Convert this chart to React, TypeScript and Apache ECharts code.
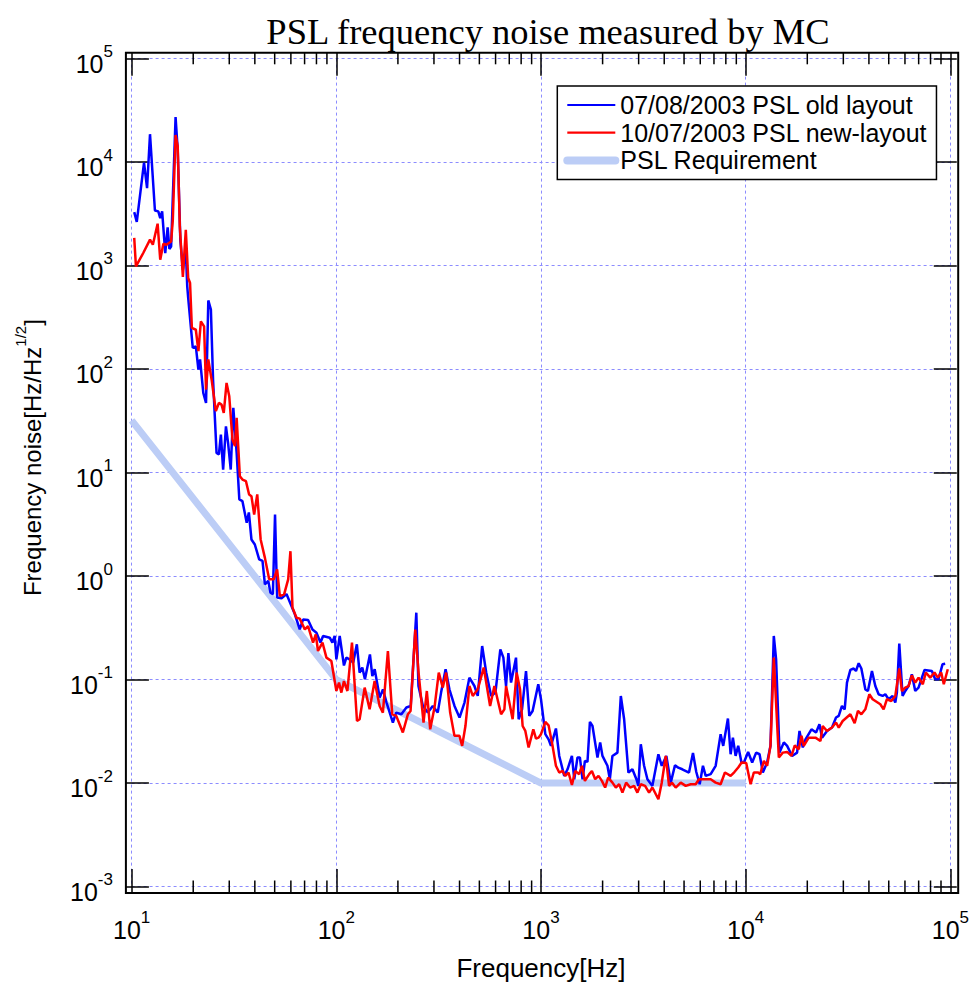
import React, { useEffect, useRef } from 'react';
import * as echarts from 'echarts';

const SANS = "'Liberation Sans', Arial, Helvetica, sans-serif";
const SERIF = "'Liberation Serif', 'Times New Roman', Times, serif";

const TITLE = 'PSL frequency noise measured by MC';
const X_NAME = 'Frequency[Hz]';
const Y_NAME_RICH = '{b|Frequency noise[Hz/Hz}{s|1/2}{b|]}';
const OLD_NAME = '07/08/2003 PSL old layout';
const NEW_NAME = '10/07/2003 PSL new-layout';
const REQ_NAME = 'PSL Requirement';

const X_MIN = 10;
const X_MAX = 1e5;
const Y_MIN = 1e-3;
const Y_MAX = 1e5;

// log-axis minor tick positions: 2..9 in each decade
const minorTickFactors = [2, 3, 4, 5, 6, 7, 8, 9];
const minorTickDecades = [10, 100, 1000, 10000];

// [frequency Hz, noise Hz/rtHz]
const requirement: [number, number][] = [
  [10, 32], [100, 0.1], [1000, 0.01], [10000, 0.01],
];

const oldLayout: [number, number][] = [
  [10.3, 3290], [10.6, 2640], [11.5, 9900], [11.9, 5610], [12.3, 18600], [13.0, 3410],
  [13.5, 3340], [13.8, 2880], [14.1, 3340], [14.6, 1320], [15.0, 2340], [15.3, 1450],
  [15.6, 1530], [16.4, 27200], [16.8, 13100], [17.3, 1780], [17.8, 910], [18.4, 1420],
  [18.7, 630], [18.9, 487], [19.9, 160], [20.6, 166], [21.2, 99], [21.6, 124],
  [22.4, 59], [23.1, 47], [23.7, 461], [24.4, 375], [25.0, 79], [26.0, 15.5],
  [26.7, 15.0], [27.3, 23.3], [28.0, 10.7], [28.9, 28.0], [29.6, 19.4], [30.5, 10.7],
  [31.4, 42.2], [32.6, 15.5], [33.6, 5.5], [34.8, 5.3], [36.5, 3.28], [37.4, 4.12],
  [38.5, 2.26], [40.0, 2.02], [42.0, 1.45], [43.6, 1.40], [44.8, 0.83], [46.5, 0.90],
  [47.7, 0.69], [49.0, 0.67], [50.2, 3.94], [51.4, 0.62], [54.0, 0.61], [57.1, 0.67],
  [62.7, 0.43], [66.3, 0.305], [68.8, 0.38], [72.8, 0.377], [76.5, 0.305], [80.0, 0.284],
  [83.7, 0.228], [86.2, 0.264], [92.9, 0.254], [95.7, 0.228], [98.2, 0.264], [100.1, 0.157],
  [103.9, 0.264], [109, 0.137], [112, 0.163], [116, 0.157], [121, 0.146], [126, 0.219],
  [130, 0.117], [134, 0.131], [138, 0.101], [146, 0.175], [150, 0.108], [154, 0.126],
  [163, 0.067], [169, 0.0805], [176, 0.060], [189, 0.0385], [196, 0.048], [208, 0.0462],
  [220, 0.0537], [231, 0.0556], [246, 0.443], [252, 0.0867], [265, 0.0556], [280, 0.048],
  [296, 0.0556], [313, 0.048], [325, 0.0749], [342, 0.126], [357, 0.0805], [378, 0.0556],
  [400, 0.043], [423, 0.060], [447, 0.1045], [473, 0.0867], [491, 0.0695], [516, 0.211],
  [540, 0.117], [571, 0.0695], [599, 0.0749], [633, 0.196], [655, 0.163], [675, 0.0867],
  [693, 0.180], [714, 0.0935], [755, 0.163], [778, 0.0414], [808, 0.0516], [845, 0.121],
  [877, 0.0446], [910, 0.0498], [970, 0.0901], [1000, 0.0646], [1050, 0.0297], [1089, 0.0265],
  [1119, 0.0229], [1183, 0.0337], [1228, 0.0183], [1299, 0.01175], [1348, 0.0136], [1416, 0.0183],
  [1454, 0.0109], [1508, 0.0177], [1549, 0.0177], [1596, 0.0109], [1639, 0.0164], [1687, 0.016],
  [1734, 0.039], [1785, 0.0356], [1888, 0.0177], [1946, 0.0247], [1997, 0.0183], [2112, 0.0147],
  [2170, 0.0109], [2234, 0.0183], [2363, 0.0197], [2455, 0.0695], [2548, 0.0414], [2674, 0.01265],
  [2797, 0.0136], [2925, 0.0109], [2991, 0.0094], [3073, 0.0237], [3190, 0.0147], [3311, 0.0109],
  [3501, 0.0094], [3746, 0.019], [3890, 0.0147], [4097, 0.0183], [4305, 0.0101], [4515, 0.0149],
  [4686, 0.0141], [4901, 0.0136], [5286, 0.01265], [5528, 0.0195], [5738, 0.0128], [5961, 0.00975],
  [6184, 0.0147], [6376, 0.01175], [6745, 0.0122], [7134, 0.0147], [7544, 0.0297], [7768, 0.0229],
  [8190, 0.0421], [8442, 0.019], [8661, 0.0275], [8929, 0.0183], [9194, 0.0229], [9550, 0.0156],
  [9800, 0.0158], [10280, 0.020], [10760, 0.0158], [11250, 0.0197], [11690, 0.019], [12130, 0.01265],
  [12730, 0.0158], [13220, 0.0229], [13720, 0.264], [14080, 0.157], [14630, 0.0197], [15360, 0.0247],
  [15940, 0.0229], [16860, 0.0183], [17830, 0.0197], [18320, 0.0319], [19010, 0.0221], [19600, 0.0265],
  [20960, 0.0331], [22070, 0.0308], [22930, 0.037], [23600, 0.0275], [24970, 0.0319], [26410, 0.0344],
  [27630, 0.043], [28480, 0.0446], [29540, 0.0556], [30460, 0.0516], [31250, 0.0935], [32470, 0.124],
  [33700, 0.128], [34580, 0.121], [35650, 0.144], [36740, 0.128], [38420, 0.0805], [39560, 0.0776],
  [41390, 0.121], [42990, 0.0867], [44620, 0.0721], [46670, 0.0695], [48100, 0.0721], [49920, 0.0646],
  [52200, 0.0695], [53820, 0.060], [54790, 0.0749], [56290, 0.2225], [58420, 0.0695], [60210, 0.0776],
  [62480, 0.0867], [64840, 0.1125], [67360, 0.0776], [69900, 0.0837], [74780, 0.124], [81200, 0.121],
  [84330, 0.1007], [87500, 0.1007], [91530, 0.1405], [94340, 0.142],
];

const newLayout: [number, number][] = [
  [10.3, 1850], [10.5, 982], [11.4, 1324], [12.3, 1780], [12.7, 1590], [13.4, 2540],
  [13.8, 1140], [14.3, 1630], [14.8, 1590], [15.6, 1710], [15.9, 2770], [16.4, 18300],
  [16.8, 14200], [17.2, 2390], [17.8, 776], [18.4, 2220], [18.9, 759], [19.3, 679],
  [19.7, 250], [20.6, 240], [21.2, 149], [21.8, 289], [22.6, 259], [23.1, 63.4],
  [23.7, 124], [24.6, 79], [25.8, 39.2], [26.7, 47.2], [27.5, 45.4], [28.2, 37.8],
  [29.1, 73.6], [30.0, 54.6], [31.1, 20.9], [32.0, 18.0], [32.6, 33.8], [33.8, 9.23],
  [34.8, 8.57], [36.2, 8.26], [37.5, 6.15], [38.5, 5.92], [39.7, 3.94], [41.1, 6.15],
  [42.7, 2.26], [44.8, 1.5], [47.0, 0.93], [49.5, 0.93], [51.4, 1.16], [53.0, 0.641],
  [55.6, 0.665], [58.2, 0.93], [59.7, 1.74], [61.1, 0.496], [63.9, 0.396], [66.3, 0.388],
  [70.2, 0.305], [72.8, 0.329], [77.0, 0.228], [79.4, 0.274], [81.4, 0.189], [85.6, 0.228],
  [89.5, 0.163], [94.6, 0.151], [100.1, 0.0776], [103.1, 0.0935], [105.9, 0.0749], [109, 0.0968],
  [113.3, 0.0776], [119.3, 0.228], [126.2, 0.0398], [130, 0.0414], [137.6, 0.0837], [145.5, 0.0516],
  [153.9, 0.0968], [162.8, 0.0556], [168.9, 0.048], [178.7, 0.189], [187.7, 0.0462], [196.3, 0.0446],
  [203.8, 0.037], [211.4, 0.0308], [223.7, 0.0462], [230.6, 0.0498], [243.1, 0.305], [252.3, 0.117],
  [266.8, 0.0385], [276.9, 0.0776], [287.6, 0.0331], [301.8, 0.0537], [316.7, 0.117], [331.3, 0.0837],
  [344.2, 0.117], [360, 0.048], [377.8, 0.0286], [399.6, 0.0286], [412, 0.0229], [427.5, 0.0356],
  [447.1, 0.0867], [464.1, 0.0695], [491, 0.0805], [525.2, 0.131], [564.2, 0.0556], [592.1, 0.0867],
  [638.3, 0.0462], [662.4, 0.0516], [675.2, 0.0867], [727, 0.0414], [760.3, 0.117], [790, 0.0805],
  [813.5, 0.0356], [838.5, 0.0319], [870, 0.0221], [917.4, 0.0331], [945.4, 0.0269], [973.4, 0.0275],
  [1000, 0.0297], [1050, 0.039], [1089, 0.0362], [1139, 0.0229], [1183, 0.0147], [1228, 0.01265],
  [1274, 0.0131], [1314, 0.01175], [1363, 0.01265], [1416, 0.0096], [1470, 0.0131], [1537, 0.0122],
  [1585, 0.0147], [1639, 0.0105], [1720, 0.0122], [1773, 0.0131], [1840, 0.0109], [1910, 0.01175],
  [1984, 0.0105], [2058, 0.00906], [2129, 0.0113], [2234, 0.0101], [2321, 0.00906], [2409, 0.00975],
  [2500, 0.0081], [2606, 0.0101], [2725, 0.00906], [2850, 0.0094], [2958, 0.0081], [3073, 0.00975],
  [3226, 0.0094], [3373, 0.0081], [3501, 0.00906], [3746, 0.00698], [3890, 0.0101], [4070, 0.0183],
  [4223, 0.0094], [4367, 0.0101], [4551, 0.00906], [4815, 0.0101], [5093, 0.0094], [5387, 0.00975],
  [5699, 0.00975], [5913, 0.0109], [6255, 0.0109], [6745, 0.0109], [7134, 0.0101], [7544, 0.00975],
  [7918, 0.01265], [8442, 0.01175], [8810, 0.0128], [9194, 0.01415], [9550, 0.0158], [10060, 0.0156],
  [10570, 0.00975], [10960, 0.01265], [11510, 0.01265], [11780, 0.0122], [12270, 0.0164], [12730, 0.0147],
  [13220, 0.0229], [13720, 0.163], [14520, 0.0177], [15180, 0.0197], [15940, 0.020], [16740, 0.0183],
  [17380, 0.0232], [18170, 0.0212], [18730, 0.0286], [19220, 0.0229], [20330, 0.0275], [21920, 0.0275],
  [23190, 0.0255], [23790, 0.0356], [24970, 0.0319], [26410, 0.0344], [27630, 0.0385], [28480, 0.0344],
  [29780, 0.0398], [32470, 0.0462], [34070, 0.0379], [35360, 0.0498], [36740, 0.0462], [38420, 0.0516],
  [40190, 0.0721], [41710, 0.0646], [45480, 0.0578], [47190, 0.0516], [48970, 0.0646], [51440, 0.0621],
  [53820, 0.0695], [56290, 0.128], [57960, 0.0776], [60210, 0.0837], [62480, 0.0867], [64840, 0.110],
  [67360, 0.0935], [69900, 0.1045], [73360, 0.0901], [75870, 0.117], [79720, 0.1045], [83640, 0.117],
  [86800, 0.1045], [90220, 0.117], [92880, 0.0901], [97120, 0.126],
];

const OLD_COLOR = '#0000ff';
const NEW_COLOR = '#ff0000';
const REQ_COLOR = '#bccdf6';
const GRID_COLOR = '#8c8cff';

const WIDTH = 972;
const HEIGHT = 986;
const GRID = { left: 131.6, right: 20.2, top: 58.6, bottom: 98.3 };
// the boxed frame sits a few pixels outside the data area
const GAP = { left: 5.7, right: 6.4, top: 5.8, bottom: 5.4 };
const MAJOR_TICK = 23;
const MINOR_TICK = 11.5;

const tickLine = { color: '#000', width: 1.5 };
const gridLine = { color: GRID_COLOR, width: 1, type: [3, 3] as number[] };

const pow10 = (v: number) => `{b|10}{s|${Math.round(Math.log10(v))}}`;

// base "10" sits at the bottom of a tall line box, the exponent at its top
const tickRich = {
  b: { fontFamily: SANS, fontSize: 25, lineHeight: 41, color: '#000' },
  s: { fontFamily: SANS, fontSize: 17, lineHeight: 17, verticalAlign: 'top', color: '#000' },
};

function buildOption() {
  const minorTicks: number[][] = [];
  minorTickDecades.forEach((d) => minorTickFactors.forEach((k) => minorTicks.push([k * d, 1])));

  const frameX = GRID.left - GAP.left;
  const frameY = GRID.top - GAP.top;
  const frameR = WIDTH - GRID.right + GAP.right;
  const frameB = HEIGHT - GRID.bottom + GAP.bottom;

  return {
    animation: false,
    backgroundColor: '#fff',
    title: {
      text: TITLE,
      left: 543,
      top: 8,
      textAlign: 'center',
      textStyle: { fontFamily: SERIF, fontSize: 36.5, fontWeight: 'normal', color: '#000' },
    },
    legend: {
      orient: 'vertical',
      left: 557.3,
      top: 86,
      data: [
        { name: OLD_NAME },
        { name: NEW_NAME },
        { name: REQ_NAME, lineStyle: { width: 8, cap: 'round' } },
      ],
      itemWidth: 48,
      itemHeight: 14,
      itemGap: 1.7,
      padding: [6, 9, 6, 6],
      borderColor: '#000',
      borderWidth: 1.5,
      borderRadius: 0,
      backgroundColor: '#fff',
      textStyle: { fontFamily: SANS, fontSize: 25, lineHeight: 26, color: '#000' },
      itemStyle: { opacity: 0 },
      lineStyle: { width: 2.2 },
      selectedMode: false,
      z: 20,
    },
    grid: { left: GRID.left, right: GRID.right, top: GRID.top, bottom: GRID.bottom },
    xAxis: [
      {
        type: 'log',
        logBase: 10,
        min: X_MIN,
        max: X_MAX,
        position: 'bottom',
        offset: GAP.bottom,
        name: X_NAME,
        nameLocation: 'middle',
        nameGap: 63,
        nameTextStyle: { fontFamily: SANS, fontSize: 26, color: '#000' },
        axisLine: { show: false },
        axisTick: { show: true, inside: true, length: MAJOR_TICK, lineStyle: tickLine },
        axisLabel: {
          formatter: pow10,
          margin: 17,
          rich: tickRich,
          showMinLabel: true,
          showMaxLabel: true,
          hideOverlap: false,
        },
        splitLine: { show: true, lineStyle: gridLine },
      },
      {
        type: 'log',
        logBase: 10,
        min: X_MIN,
        max: X_MAX,
        position: 'top',
        offset: GAP.top,
        axisLine: { show: false },
        axisTick: { show: true, inside: true, length: MAJOR_TICK, lineStyle: tickLine },
        axisLabel: { show: false },
        splitLine: { show: false },
      },
    ],
    yAxis: [
      {
        type: 'log',
        logBase: 10,
        min: Y_MIN,
        max: Y_MAX,
        position: 'left',
        offset: GAP.left,
        axisLine: { show: false },
        axisTick: { show: true, inside: true, length: MAJOR_TICK, lineStyle: tickLine },
        axisLabel: {
          formatter: pow10,
          margin: 13,
          rich: tickRich,
          padding: [10, 0, 0, 0],
          showMinLabel: true,
          showMaxLabel: true,
          hideOverlap: false,
        },
        splitLine: { show: true, lineStyle: gridLine },
      },
      {
        type: 'log',
        logBase: 10,
        min: Y_MIN,
        max: Y_MAX,
        position: 'right',
        offset: GAP.right,
        axisLine: { show: false },
        axisTick: { show: true, inside: true, length: MAJOR_TICK, lineStyle: tickLine },
        axisLabel: { show: false },
        splitLine: { show: false },
      },
    ],
    graphic: [
      {
        type: 'rect',
        z: 30,
        silent: true,
        shape: { x: frameX, y: frameY, width: frameR - frameX, height: frameB - frameY },
        style: { fill: 'none', stroke: '#000', lineWidth: 2 },
      },
      {
        type: 'text',
        z: 30,
        x: 32,
        y: 457.6,
        rotation: Math.PI / 2,
        style: {
          text: Y_NAME_RICH,
          align: 'center',
          verticalAlign: 'middle',
          fill: '#000',
          rich: {
            b: { fontFamily: SANS, fontSize: 24, lineHeight: 38, fill: '#000' },
            s: { fontFamily: SANS, fontSize: 15, lineHeight: 15, verticalAlign: 'top', fill: '#000' },
          },
        },
      },
    ],
    series: [
      {
        type: 'line',
        name: REQ_NAME,
        data: requirement,
        symbol: 'none',
        color: REQ_COLOR,
        lineStyle: { color: REQ_COLOR, width: 7 },
        z: 2,
        silent: true,
      },
      {
        type: 'line',
        name: OLD_NAME,
        data: oldLayout,
        symbol: 'none',
        color: OLD_COLOR,
        lineStyle: { color: OLD_COLOR, width: 2.5 },
        z: 3,
        silent: true,
      },
      {
        type: 'line',
        name: NEW_NAME,
        data: newLayout,
        symbol: 'none',
        color: NEW_COLOR,
        lineStyle: { color: NEW_COLOR, width: 2.5 },
        z: 4,
        silent: true,
      },
      {
        // minor ticks of the logarithmic frequency axis, bottom and top edges
        type: 'custom',
        name: 'minor ticks',
        silent: true,
        z: 5,
        data: minorTicks,
        renderItem: (params: any, api: any) => {
          const x = api.coord([api.value(0), 1])[0];
          const cs = params.coordSys;
          const bottom = cs.y + cs.height + GAP.bottom;
          const top = cs.y - GAP.top;
          return {
            type: 'group',
            children: [
              {
                type: 'line',
                shape: { x1: x, y1: bottom, x2: x, y2: bottom - MINOR_TICK },
                style: { stroke: '#000', lineWidth: 1.5 },
              },
              {
                type: 'line',
                shape: { x1: x, y1: top, x2: x, y2: top + MINOR_TICK },
                style: { stroke: '#000', lineWidth: 1.5 },
              },
            ],
          };
        },
      },
    ],
  };
}

export default function App() {
  const ref = useRef<HTMLDivElement>(null);
  useEffect(() => {
    document.body.style.margin = '0';
    const chart = echarts.init(ref.current as HTMLDivElement, undefined, { renderer: 'svg' });
    chart.setOption(buildOption() as any);
    return () => chart.dispose();
  }, []);
  return <div ref={ref} style={{ width: WIDTH, height: HEIGHT }} />;
}
